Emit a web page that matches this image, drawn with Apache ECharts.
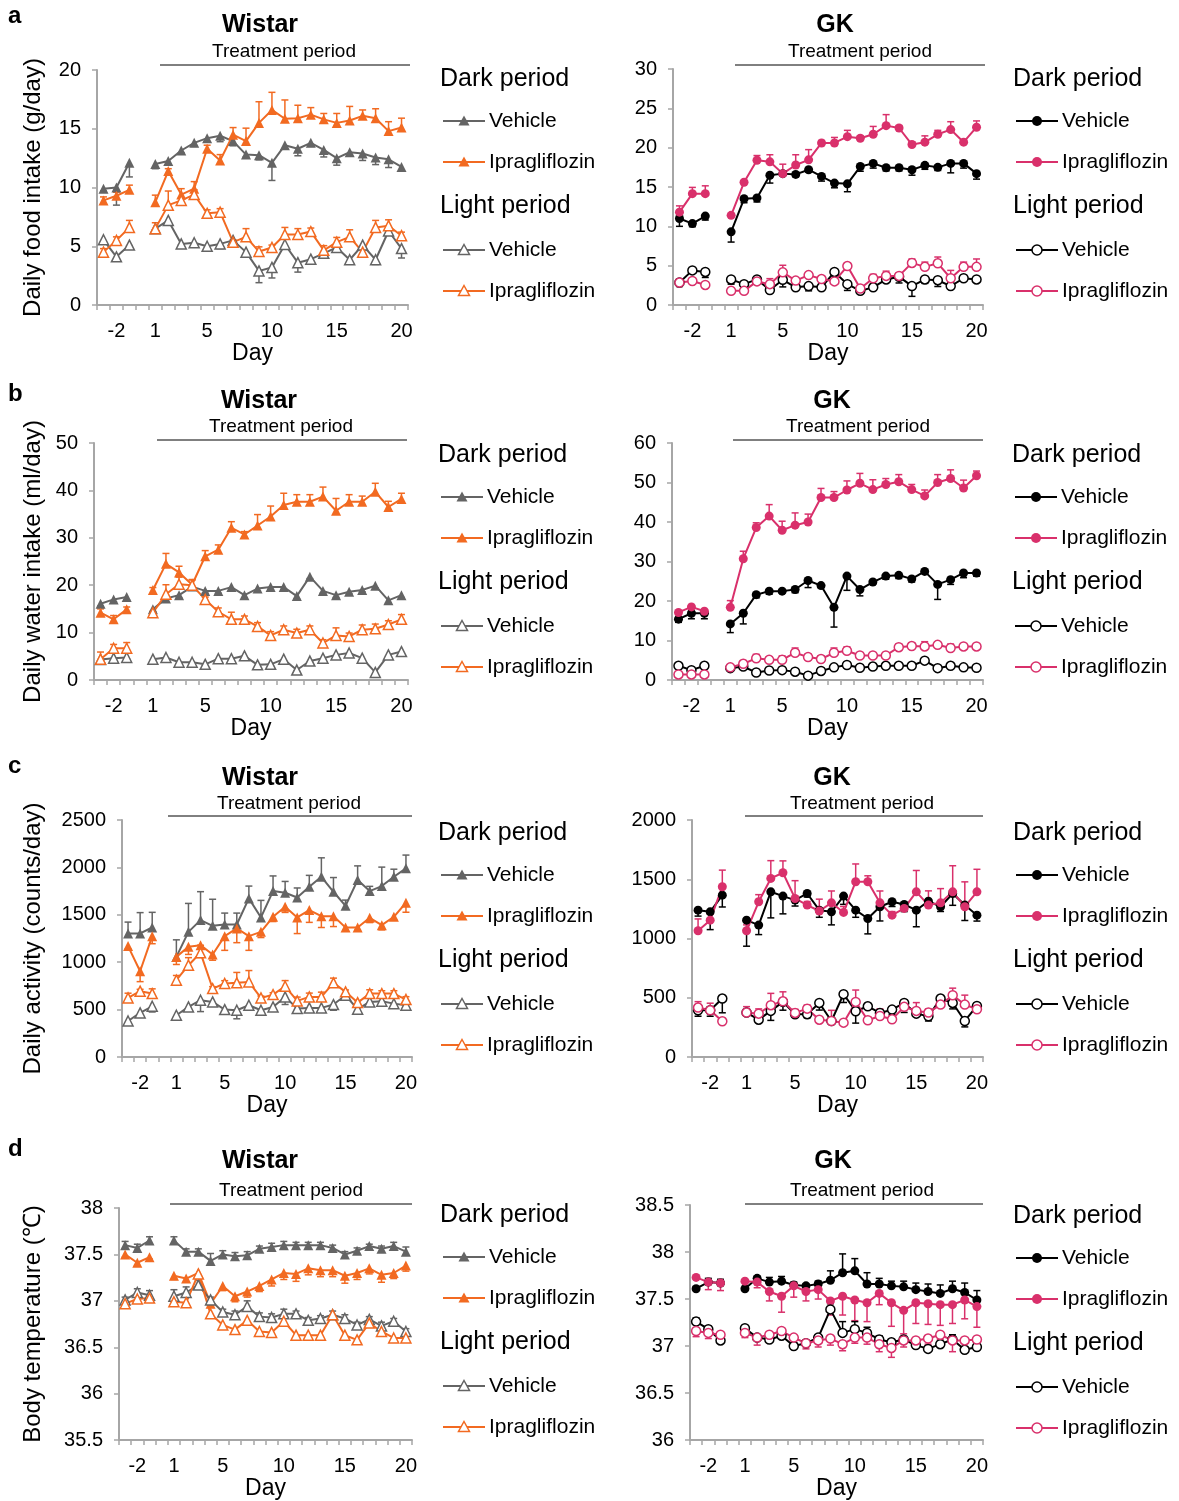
<!DOCTYPE html>
<html><head><meta charset="utf-8">
<script src="https://cdn.jsdelivr.net/npm/echarts@6/dist/echarts.min.js"></script>
<style>html,body{margin:0;padding:0;background:#fff}#c{width:1179px;height:1501px}</style>
</head><body><div id="c"></div><script>
// ---------- categories & tick labels ----------
const categories = ['-3','-2','-1','','1','2','3','4','5','6','7','8','9','10','11','12','13','14','15','16','17','18','19','20'];
const tickLabels = ['-2','1','5','10','15','20'];
// values: days -3,-2,-1, then 1..20 (23 values)

// ---------- a: food intake ----------
const aW_darkVeh  = [9.9,10.0,12.1, 12.0,12.25,13.15,13.8,14.2,14.4,13.95,12.8,12.75,12.1,13.6,13.3,13.8,13.2,12.5,13.0,12.9,12.55,12.4,11.75];
const aW_darkVehErr = [0.2,1.5,1.2, 0.4,0.3,0.2,0.3,0.3,0.5,0.4,0.2,0.4,1.5,0.3,0.6,0.3,0.6,0.6,0.3,0.6,0.6,0.7,0.3];
const aW_darkIpr  = [8.9,9.3,9.8, 8.75,11.4,9.4,9.9,13.3,12.3,14.5,13.95,15.5,16.6,15.85,15.9,16.2,15.8,15.5,15.7,16.1,15.9,14.8,15.1];
const aW_darkIprErr = [0.3,0.3,0.4, 0.6,0.2,0.5,0.6,0.3,0.5,0.6,1.1,1.8,1.5,1.6,1.1,0.6,0.5,0.8,1.2,0.5,0.8,0.8,0.8];
const aW_lightVeh = [5.55,4.1,5.1, 6.5,7.2,5.2,5.3,5.0,5.2,5.5,4.5,2.9,3.2,5.15,3.6,3.9,4.4,4.9,3.85,5.1,3.85,6.3,4.8];
const aW_lightVehErr = [0.1,0.2,0.05, 0.1,0.3,0.1,0.2,0.3,0.4,0.3,0.4,1.0,0.9,0.3,0.8,0.4,0.3,0.3,0.3,0.2,0.4,0.2,0.8];
const aW_lightIpr = [4.5,5.5,6.6, 6.5,8.5,8.9,9.4,7.8,7.9,5.35,5.8,4.55,4.9,6.0,6.0,6.25,4.65,5.35,5.8,4.5,6.6,6.75,5.9];
const aW_lightIprErr = [0.3,0.3,0.6, 0.5,1.2,0.2,0.4,0.3,0.3,0.2,0.7,0.4,0.2,0.6,0.5,0.3,0.4,0.4,0.6,0.2,0.6,0.5,0.3];

const aG_darkVeh  = [11.0,10.35,11.3, 9.3,13.5,13.6,16.5,16.7,16.6,17.2,16.35,15.5,15.4,17.6,18.0,17.45,17.45,17.2,17.75,17.5,18.0,18.0,16.7];
const aG_darkVehErr = [1.0,0.4,0.5, 1.3,0.5,0.5,1.0,0.2,0.3,0.3,0.6,0.6,1.0,0.6,0.6,0.4,0.4,0.7,0.5,0.4,1.2,0.6,0.7];
const aG_darkIpr  = [11.8,14.15,14.15, 11.4,15.6,18.4,18.2,16.7,17.8,18.45,20.6,20.6,21.4,21.2,21.7,22.8,22.5,20.4,20.7,21.7,22.3,20.7,22.6];
const aG_darkIprErr = [0.8,0.8,1.0, 0.1,0.2,0.6,0.9,1.2,1.3,1.3,0.3,0.7,0.8,0.3,1.0,1.4,0.3,0.3,0.8,0.5,1.0,0.3,0.8];
const aG_lightVeh = [2.85,4.4,4.2, 3.25,2.65,3.25,1.9,3.2,2.25,2.4,2.25,4.2,2.65,1.8,2.25,3.25,3.6,2.4,3.25,3.15,2.4,3.4,3.25];
const aG_lightVehErr = [0.5,0.2,0.7, 0.6,0.2,0.2,0.3,0.9,0.3,0.6,0.2,0.4,0.8,0.2,0.2,0.3,0.8,1.3,0.5,0.8,0.2,0.3,0.3];
const aG_lightIpr = [2.85,3.05,2.55, 1.8,1.8,3.0,2.65,4.15,3.1,3.8,3.3,3.0,4.95,2.1,3.4,3.7,3.7,5.35,4.85,5.3,3.4,4.85,4.85];
const aG_lightIprErr = [0.2,0.3,0.2, 0.2,0.2,0.3,0.7,0.9,0.2,0.2,0.2,0.2,0.2,0.2,0.5,0.6,0.3,0.5,0.6,0.8,1.0,0.6,1.0];

// ---------- b: water intake ----------
const bW_darkVeh  = [16.1,17.0,17.5, 14.9,17.2,17.9,19.7,18.8,18.8,19.6,17.9,19.3,19.6,19.6,17.7,21.8,18.8,17.9,18.6,19.0,19.9,16.8,17.9];
const bW_darkVehErr = [0.5,0.5,0.6, 0.5,0.8,0.6,0.6,0.5,0.5,0.4,0.6,0.5,0.5,0.5,0.6,0.4,0.5,0.5,0.4,0.4,0.5,0.6,0.5];
const bW_darkIpr  = [14.2,12.8,14.9, 19.0,24.5,22.7,20.1,26.1,27.5,32.1,30.7,32.6,34.5,36.9,37.6,37.6,38.7,35.7,37.6,37.6,39.7,36.5,38.2];
const bW_darkIprErr = [0.8,0.8,0.5, 0.5,2.2,1.3,1.0,1.2,1.0,1.3,0.6,2.3,2.2,2.5,1.5,1.5,2.0,2.6,1.5,1.2,1.8,1.2,1.2];
const bW_lightVeh = [4.3,4.6,4.75, 4.4,4.75,3.75,3.75,3.3,4.5,4.5,5.1,3.2,3.3,4.4,2.1,4.0,4.6,5.3,5.7,4.6,1.6,5.3,6.0];
const bW_lightVehErr = [0.3,0.3,0.3, 0.3,0.3,0.3,0.3,0.3,0.3,0.3,0.3,0.3,0.3,0.3,0.3,0.3,0.3,0.3,0.3,0.3,0.5,0.3,0.3];
const bW_lightIpr = [4.4,6.7,6.7, 14.2,18.1,20.2,20.0,17.0,14.4,12.8,12.8,11.3,9.4,10.6,9.9,10.6,7.8,9.4,9.2,10.6,10.8,11.7,12.8];
const bW_lightIprErr = [1.5,0.8,1.2, 0.3,2.0,1.5,1.2,0.5,0.8,1.5,0.7,0.8,0.8,0.8,0.8,0.8,0.7,1.6,0.7,1.0,1.0,0.8,1.0];

const bG_darkVeh  = [15.4,16.9,16.9, 14.2,16.9,21.6,22.5,22.5,22.9,25.2,23.9,18.4,26.3,22.9,24.8,26.3,26.5,25.6,27.5,24.2,25.4,27.1,27.1];
const bG_darkVehErr = [0.8,1.4,1.4, 2.2,2.7,0.8,0.8,0.5,0.8,1.8,0.5,5.0,3.6,1.6,0.5,0.8,0.8,0.8,0.5,3.8,1.2,1.2,0.8];
const bG_darkIpr  = [17.1,18.5,17.4, 18.4,30.7,38.6,41.5,37.9,39.2,40.0,46.2,46.2,48.1,49.8,48.2,49.5,50.2,48.2,46.6,50.0,51.0,48.6,51.7];
const bG_darkIprErr = [0.3,0.3,0.3, 1.7,1.9,1.2,2.9,2.3,3.1,2.0,2.3,1.5,2.3,2.5,2.5,1.5,1.8,1.3,1.5,2.0,2.2,2.0,1.2];
const bG_lightVeh = [3.6,2.5,3.6, 3.0,3.4,1.9,2.4,2.5,2.1,1.1,2.3,3.2,3.8,3.1,3.4,3.6,3.6,3.6,4.9,3.0,3.6,3.2,3.1];
const bG_lightVehErr = [0.3,0.3,0.3, 0.3,0.3,0.3,0.3,0.3,0.3,0.3,0.3,0.6,0.4,0.4,0.4,0.4,0.6,0.4,0.4,0.3,0.3,0.6,0.3];
const bG_lightIpr = [1.4,1.4,1.4, 3.2,4.1,5.5,5.1,5.1,6.9,5.8,5.3,6.9,7.4,6.2,6.2,6.2,8.3,8.6,8.5,8.9,8.1,8.5,8.5];
const bG_lightIprErr = [0.3,0.3,0.3, 0.6,0.8,1.0,0.8,1.0,1.2,0.8,0.8,1.2,1.0,0.6,0.6,0.6,0.8,0.8,1.2,0.6,1.0,0.6,0.6];

// ---------- c: activity ----------
const cW_darkVeh  = [1303,1303,1366, 1056,1320,1444,1384,1398,1398,1673,1472,1750,1732,1683,1796,1901,1743,1595,1866,1750,1803,1901,1990];
const cW_darkVehErr = [120,220,160, 180,300,300,280,120,120,130,180,160,120,100,120,200,150,60,150,50,200,80,140];
const cW_darkIpr  = [1170,905,1275, 1056,1162,1180,1081,1275,1356,1275,1320,1479,1585,1472,1550,1486,1486,1366,1366,1468,1391,1479,1627];
const cW_darkIprErr = [30,110,80, 80,80,130,60,150,150,150,60,50,60,170,130,120,110,30,30,50,50,30,100];
const cW_lightVeh = [380,465,535, 440,528,599,581,500,493,546,493,528,634,511,518,518,553,651,504,581,588,563,546];
const cW_lightVehErr = [20,20,60, 20,40,120,40,40,90,30,30,30,80,30,30,30,60,30,30,30,30,30,30];
const cW_lightIpr = [623,694,669, 810,968,1099,722,775,782,792,623,658,746,592,634,634,782,687,574,669,669,669,606];
const cW_lightIprErr = [50,20,50, 50,80,80,20,30,110,120,20,20,60,40,40,50,50,20,20,40,30,30,30];

const cG_darkVeh  = [1239,1225,1366, 1155,1113,1394,1358,1324,1380,1239,1225,1358,1239,1169,1268,1310,1287,1239,1315,1268,1380,1282,1197];
const cG_darkVehErr = [50,150,100, 220,80,220,150,50,30,60,110,70,60,130,120,40,60,140,30,40,100,130,50];
const cG_darkIpr  = [1065,1155,1437, 1065,1310,1507,1555,1338,1282,1232,1301,1220,1479,1479,1301,1197,1254,1394,1282,1301,1394,1268,1394];
const cG_darkIprErr = [100,50,140, 50,60,150,100,150,30,100,100,50,150,50,100,30,30,180,120,120,220,210,190];
const cG_lightVeh = [394,394,493, 375,315,389,465,361,361,456,304,530,386,428,372,400,456,366,344,493,456,304,431];
const cG_lightVehErr = [50,50,120, 20,20,80,70,20,30,60,20,70,100,20,40,40,80,20,40,20,50,50,20];
const cG_lightIpr = [417,394,301, 375,366,437,470,372,408,315,304,290,465,310,346,318,423,389,375,442,521,442,403];
const cG_lightIprErr = [50,60,20, 50,40,100,80,30,30,20,90,20,100,30,60,30,30,70,30,30,60,80,40];

// ---------- d: body temperature ----------
const dW_darkVeh  = [37.60,37.57,37.65, 37.65,37.53,37.53,37.43,37.50,37.48,37.49,37.56,37.58,37.60,37.60,37.60,37.60,37.57,37.50,37.54,37.59,37.56,37.59,37.53];
const dW_darkVehErr = [0.04,0.04,0.04, 0.04,0.03,0.03,0.08,0.04,0.04,0.04,0.03,0.04,0.04,0.03,0.03,0.03,0.03,0.03,0.03,0.02,0.03,0.04,0.05];
const dW_darkIpr  = [37.50,37.41,37.47, 37.27,37.24,37.30,36.97,37.16,37.05,37.10,37.16,37.23,37.30,37.29,37.35,37.33,37.33,37.27,37.30,37.35,37.28,37.30,37.38];
const dW_darkIprErr = [0.03,0.03,0.02, 0.04,0.04,0.03,0.04,0.05,0.06,0.06,0.06,0.07,0.07,0.08,0.07,0.07,0.07,0.08,0.07,0.06,0.08,0.06,0.06];
const dW_lightVeh = [37.01,37.09,37.06, 37.05,37.09,37.17,37.01,36.88,36.85,36.94,36.83,36.82,36.86,36.86,36.79,36.81,36.85,36.81,36.74,36.80,36.73,36.78,36.67];
const dW_lightVehErr = [0.03,0.04,0.05, 0.07,0.06,0.05,0.03,0.03,0.04,0.06,0.04,0.04,0.05,0.03,0.03,0.03,0.04,0.04,0.03,0.03,0.04,0.03,0.03];
const dW_lightIpr = [36.97,37.02,37.03, 36.99,36.98,37.29,36.86,36.74,36.69,36.79,36.67,36.66,36.78,36.63,36.63,36.63,36.85,36.63,36.58,36.76,36.67,36.60,36.60];
const dW_lightIprErr = [0.03,0.02,0.02, 0.02,0.02,0.02,0.03,0.02,0.02,0.03,0.03,0.03,0.03,0.04,0.03,0.03,0.03,0.03,0.03,0.02,0.03,0.03,0.03];

const dG_darkVeh  = [37.61,37.68,37.67, 37.61,37.72,37.68,37.69,37.65,37.64,37.66,37.70,37.78,37.80,37.66,37.66,37.64,37.63,37.60,37.58,37.56,37.61,37.57,37.49];
const dG_darkVehErr = [0.02,0.04,0.04, 0.01,0.02,0.05,0.05,0.03,0.02,0.03,0.1,0.2,0.13,0.12,0.06,0.05,0.06,0.07,0.08,0.09,0.08,0.1,0.1];
const dG_darkIpr  = [37.73,37.68,37.67, 37.69,37.68,37.58,37.53,37.64,37.58,37.60,37.48,37.53,37.49,37.46,37.56,37.46,37.38,37.46,37.45,37.44,37.44,37.49,37.42];
const dG_darkIprErr = [0.01,0.08,0.08, 0.01,0.06,0.1,0.17,0.12,0.1,0.1,0.15,0.2,0.22,0.2,0.12,0.25,0.25,0.22,0.22,0.22,0.2,0.2,0.22];
const dG_lightVeh = [37.26,37.18,37.06, 37.19,37.09,37.07,37.11,37.00,37.03,37.09,37.39,37.14,37.18,37.14,37.07,37.04,37.07,37.01,36.97,37.02,37.07,36.96,36.99];
const dG_lightVehErr = [0.04,0.03,0.02, 0.02,0.02,0.02,0.02,0.02,0.02,0.03,0.06,0.12,0.08,0.06,0.04,0.03,0.02,0.02,0.02,0.02,0.05,0.02,0.02];
const dG_lightIpr = [37.16,37.14,37.12, 37.14,37.09,37.12,37.16,37.09,37.03,37.06,37.08,37.02,37.09,37.09,37.02,36.98,37.06,37.06,37.08,37.12,37.06,37.06,37.07];
const dG_lightIprErr = [0.06,0.06,0.05, 0.05,0.08,0.06,0.05,0.05,0.06,0.07,0.07,0.07,0.06,0.07,0.08,0.1,0.07,0.07,0.06,0.05,0.12,0.07,0.08];

// ---------- layout / styles ----------
const FONT = '"Liberation Sans", Arial, Helvetica, sans-serif';
const AXIS_COLOR = '#a6a6a6';
const strainStyle = {
  W: { colors: ['#646464', '#f26a21'], symbol: 'triangle', title: 'Wistar' },
  G: { colors: ['#000000', '#d9306b'], symbol: 'circle', title: 'GK' }
};
const panels = [
  { strain:'W', grid:{left:97,top:70,width:311,height:235}, y:{min:0,max:20,interval:5}, yName:'Daily food intake (g/day)', nameGap:52,
    vals:[aW_darkVeh,aW_darkIpr,aW_lightVeh,aW_lightIpr], errs:[aW_darkVehErr,aW_darkIprErr,aW_lightVehErr,aW_lightIprErr], dirs:[-1,1,-1,1],
    titleX:260, titleY:25, tpX:284, tpY:52, lineY:65, lineX:[160,410], legX:440, legY:79 },
  { strain:'G', grid:{left:673,top:69,width:310,height:236}, y:{min:0,max:30,interval:5},
    vals:[aG_darkVeh,aG_darkIpr,aG_lightVeh,aG_lightIpr], errs:[aG_darkVehErr,aG_darkIprErr,aG_lightVehErr,aG_lightIprErr], dirs:[-1,1,-1,1],
    titleX:835, titleY:25, tpX:860, tpY:52, lineY:65, lineX:[735,985], legX:1013, legY:79 },
  { strain:'W', grid:{left:94,top:443,width:314,height:237}, y:{min:0,max:50,interval:10}, yName:'Daily water intake (ml/day)', nameGap:49,
    vals:[bW_darkVeh,bW_darkIpr,bW_lightVeh,bW_lightIpr], errs:[bW_darkVehErr,bW_darkIprErr,bW_lightVehErr,bW_lightIprErr], dirs:[-1,1,-1,1],
    titleX:259, titleY:401, tpX:281, tpY:427, lineY:440, lineX:[157,407], legX:438, legY:455 },
  { strain:'G', grid:{left:672,top:443,width:311,height:237}, y:{min:0,max:60,interval:10},
    vals:[bG_darkVeh,bG_darkIpr,bG_lightVeh,bG_lightIpr], errs:[bG_darkVehErr,bG_darkIprErr,bG_lightVehErr,bG_lightIprErr], dirs:[-1,1,-1,1],
    titleX:832, titleY:401, tpX:858, tpY:427, lineY:440, lineX:[733,983], legX:1012, legY:455 },
  { strain:'W', grid:{left:122,top:820,width:290,height:237}, y:{min:0,max:2500,interval:500}, yName:'Daily activity (counts/day)', nameGap:77,
    vals:[cW_darkVeh,cW_darkIpr,cW_lightVeh,cW_lightIpr], errs:[cW_darkVehErr,cW_darkIprErr,cW_lightVehErr,cW_lightIprErr], dirs:[1,-1,-1,1],
    titleX:260, titleY:778, tpX:289, tpY:804, lineY:816, lineX:[168,412], legX:438, legY:833 },
  { strain:'G', grid:{left:692,top:820,width:291,height:237}, y:{min:0,max:2000,interval:500},
    vals:[cG_darkVeh,cG_darkIpr,cG_lightVeh,cG_lightIpr], errs:[cG_darkVehErr,cG_darkIprErr,cG_lightVehErr,cG_lightIprErr], dirs:[-1,1,-1,1],
    titleX:832, titleY:778, tpX:862, tpY:804, lineY:816, lineX:[745,983], legX:1013, legY:833 },
  { strain:'W', grid:{left:119,top:1208,width:293,height:235}, y:{min:35.5,max:38,interval:0.5}, yName:'Body temperature (\u2103)', nameGap:74,
    vals:[dW_darkVeh,dW_darkIpr,dW_lightVeh,dW_lightIpr], errs:[dW_darkVehErr,dW_darkIprErr,dW_lightVehErr,dW_lightIprErr], dirs:[1,-1,1,-1],
    titleX:260, titleY:1161, tpX:291, tpY:1191, lineY:1204, lineX:[170,412], legX:440, legY:1215 },
  { strain:'G', grid:{left:690,top:1205,width:293,height:237}, y:{min:36,max:38.5,interval:0.5},
    vals:[dG_darkVeh,dG_darkIpr,dG_lightVeh,dG_lightIpr], errs:[dG_darkVehErr,dG_darkIprErr,dG_lightVehErr,dG_lightIprErr], dirs:[1,-1,1,-1],
    titleX:833, titleY:1161, tpX:862, tpY:1191, lineY:1204, lineX:[745,983], legX:1013, legY:1216 }
];
const panelLetters = [['a',16],['b',394],['c',766],['d',1149]];

// helpers
const catIndex = k => (k < 3 ? k : k + 1);
function pad(arr) { return [arr[0], arr[1], arr[2], '-', ...arr.slice(3)]; }

const grids = [], xAxes = [], yAxes = [], series = [], graphics = [];

panels.forEach((p, i) => {
  const st = strainStyle[p.strain];
  grids.push(Object.assign({ containLabel: false }, p.grid));
  xAxes.push({
    type: 'category', gridIndex: i, data: categories, boundaryGap: true,
    axisLine: { lineStyle: { color: AXIS_COLOR, width: 2 } },
    axisTick: { show: true, interval: 0, length: 5, lineStyle: { color: AXIS_COLOR, width: 1.5 } },
    axisLabel: { interval: 0, margin: 16, color: '#000', fontSize: 20, fontFamily: FONT,
      formatter: v => (tickLabels.indexOf(v) >= 0 ? v : '') },
    splitLine: { show: false },
    name: 'Day', nameLocation: 'middle', nameGap: 31,
    nameTextStyle: { color: '#000', fontSize: 23, fontFamily: FONT }
  });
  yAxes.push({
    type: 'value', gridIndex: i, min: p.y.min, max: p.y.max, interval: p.y.interval,
    axisLine: { show: true, lineStyle: { color: AXIS_COLOR, width: 2 } },
    axisTick: { show: true, length: 5, lineStyle: { color: AXIS_COLOR, width: 1.5 } },
    axisLabel: { margin: 16, color: '#000', fontSize: 20, fontFamily: FONT, formatter: v => String(v) },
    splitLine: { show: false },
    name: p.yName || '', nameLocation: 'middle', nameGap: p.nameGap || 50,
    nameTextStyle: { color: '#000', fontSize: 24, fontFamily: FONT }
  });
  for (let s = 0; s < 4; s++) {
    const color = st.colors[s % 2];
    const open = s >= 2;
    const vals = p.vals[s], errs = p.errs[s], dir = p.dirs[s];
    series.push({
      type: 'custom', xAxisIndex: i, yAxisIndex: i, z: 2, silent: true,
      data: vals.map((v, k) => [catIndex(k), v, v + dir * errs[k]]),
      encode: { x: 0, y: 1 },
      renderItem: (params, api) => {
        const a = api.coord([api.value(0), api.value(1)]);
        const b = api.coord([api.value(0), api.value(2)]);
        return { type: 'group', children: [
          { type: 'line', shape: { x1: a[0], y1: a[1], x2: a[0], y2: b[1] }, style: { stroke: color, lineWidth: 1.5 } },
          { type: 'line', shape: { x1: a[0] - 3.5, y1: b[1], x2: a[0] + 3.5, y2: b[1] }, style: { stroke: color, lineWidth: 1.5 } }
        ] };
      }
    });
    series.push({
      type: 'line', xAxisIndex: i, yAxisIndex: i, z: 3,
      data: pad(vals), connectNulls: false,
      symbol: st.symbol, symbolSize: st.symbol === 'triangle' ? 10 : 9, showSymbol: true, showAllSymbol: true,
      lineStyle: { color: color, width: 2 },
      itemStyle: open ? { color: '#ffffff', borderColor: color, borderWidth: 1.5 } : { color: color, borderColor: color, borderWidth: 0 },
      emphasis: { disabled: true }
    });
  }
  // titles
  graphics.push({ type: 'text', x: p.titleX, y: p.titleY, style: { text: st.title, font: 'bold 25px ' + FONT, fill: '#000', align: 'center', verticalAlign: 'middle', textAlign: 'center', textVerticalAlign: 'middle' } });
  graphics.push({ type: 'text', x: p.tpX, y: p.tpY, style: { text: 'Treatment period', font: '19px ' + FONT, fill: '#000', align: 'center', verticalAlign: 'middle', textAlign: 'center', textVerticalAlign: 'middle' } });
  graphics.push({ type: 'line', shape: { x1: p.lineX[0], y1: p.lineY, x2: p.lineX[1], y2: p.lineY }, style: { stroke: '#000', lineWidth: 1 } });
  // legend
  const lx = p.legX, ly = p.legY;
  const headers = [['Dark period', 0], ['Light period', 127]];
  headers.forEach(h => graphics.push({ type: 'text', x: lx, y: ly + h[1], style: { text: h[0], font: '25px ' + FONT, fill: '#000', align: 'left', verticalAlign: 'middle', textAlign: 'left', textVerticalAlign: 'middle' } }));
  const rows = [[0, 42], [1, 83], [2, 171], [3, 212]];
  rows.forEach(r => {
    const s = r[0], y = ly + r[1];
    const color = st.colors[s % 2];
    const open = s >= 2;
    graphics.push({ type: 'line', shape: { x1: lx + 3, y1: y, x2: lx + 45, y2: y }, style: { stroke: color, lineWidth: 2 } });
    const mx = lx + 24;
    if (st.symbol === 'triangle') {
      graphics.push({ type: 'polygon', shape: { points: [[mx, y - 5.5], [mx + 5.5, y + 4.5], [mx - 5.5, y + 4.5]] },
        style: open ? { fill: '#fff', stroke: color, lineWidth: 1.5 } : { fill: color } });
    } else {
      graphics.push({ type: 'circle', shape: { cx: mx, cy: y, r: 5 },
        style: open ? { fill: '#fff', stroke: color, lineWidth: 1.5 } : { fill: color } });
    }
    graphics.push({ type: 'text', x: lx + 49, y: y, style: { text: s % 2 === 0 ? 'Vehicle' : 'Ipragliflozin', font: '21px ' + FONT, fill: '#000', align: 'left', verticalAlign: 'middle', textAlign: 'left', textVerticalAlign: 'middle' } });
  });
});
panelLetters.forEach(l => graphics.push({ type: 'text', x: 8, y: l[1], style: { text: l[0], font: 'bold 24px ' + FONT, fill: '#000', align: 'left', verticalAlign: 'middle', textAlign: 'left', textVerticalAlign: 'middle' } }));

const chart = echarts.init(document.getElementById('c'), null, { renderer: 'canvas' });
chart.setOption({
  animation: false,
  backgroundColor: '#ffffff',
  textStyle: { fontFamily: FONT },
  grid: grids, xAxis: xAxes, yAxis: yAxes, series: series,
  graphic: { elements: graphics }
});
</script></body></html>
